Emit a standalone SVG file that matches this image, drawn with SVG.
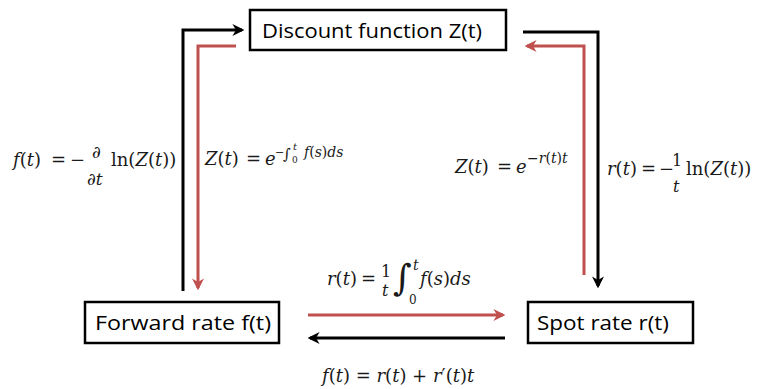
<svg xmlns="http://www.w3.org/2000/svg" width="764" height="389" viewBox="0 0 764 389">
<style>
.box{fill:#fff;stroke:#000;stroke-width:2.5}
.lbl{font-family:"Open Sans","Liberation Sans",Arial,sans-serif;font-size:20px;fill:#000}
.blk{fill:none;stroke:#000;stroke-width:3}
.red{fill:none;stroke:#c0504d;stroke-width:3}
.m{font-family:"DejaVu Serif","Liberation Serif",serif;fill:#1a1a1a}
.i{font-style:italic}
</style>
<defs>
<marker id="ab" viewBox="0 0 10 10" refX="8" refY="5" markerWidth="4" markerHeight="4" orient="auto" markerUnits="strokeWidth">
<path d="M0,0 L10,5 L0,10 L3,5 Z" fill="#000"/>
</marker>
<marker id="ar" viewBox="0 0 10 10" refX="8" refY="5" markerWidth="4" markerHeight="4" orient="auto" markerUnits="strokeWidth">
<path d="M0,0 L10,5 L0,10 L3,5 Z" fill="#c0504d"/>
</marker>
</defs>
<g id="connectors">
<polyline class="blk" points="183,291 183,30 242,30" marker-end="url(#ab)"/>
<polyline class="red" points="236,46 198,46 198,288" marker-end="url(#ar)"/>
<polyline class="blk" points="523,32 598,32 598,286" marker-end="url(#ab)"/>
<polyline class="red" points="584,275 584,46 527,46" marker-end="url(#ar)"/>
<line class="red" x1="308" y1="315" x2="503" y2="315" marker-end="url(#ar)"/>
<line class="blk" x1="505" y1="338" x2="310" y2="338" marker-end="url(#ab)"/>
</g>
<g id="discount">
<rect class="box" x="250" y="10" width="256" height="40"/>
<text class="lbl" x="262" y="38" textLength="220" lengthAdjust="spacingAndGlyphs">Discount function Z(t)</text>
</g>
<g id="forward">
<rect class="box" x="85" y="302" width="194" height="41"/>
<text class="lbl" x="95" y="330" textLength="176" lengthAdjust="spacingAndGlyphs">Forward rate f(t)</text>
</g>
<g id="spot">
<rect class="box" x="528" y="302" width="165" height="41"/>
<text class="lbl" x="537" y="330" textLength="132" lengthAdjust="spacingAndGlyphs">Spot rate r(t)</text>
</g>
<g id="labels" font-size="18">
<!-- f(t) = -d/dt ln(Z(t)) -->
<text class="m" x="13" y="166"><tspan class="i">f</tspan>(<tspan class="i">t</tspan>)</text>
<text class="m" x="51" y="166">=</text>
<text class="m" x="70" y="166">−</text>
<text class="m i" x="92" y="158" style="font-size:17px">∂</text>
<text class="m i" x="87" y="185" style="font-size:17px">∂t</text>
<text class="m" x="111" y="166">ln(<tspan class="i">Z</tspan>(<tspan class="i">t</tspan>))</text>

<!-- Z(t) = e^{-int f(s)ds} -->
<text class="m" x="205" y="165"><tspan class="i">Z</tspan>(<tspan class="i">t</tspan>)</text>
<text class="m" x="246" y="165">=</text>
<text class="m i" x="265" y="165">e</text>
<text class="m" x="275" y="156" style="font-size:11px">−</text>
<text class="m" x="283" y="159" style="font-size:15px">∫</text>
<text class="m i" x="293" y="150" style="font-size:10px">t</text>
<text class="m" x="292" y="163" style="font-size:9px">0</text>
<text class="m" x="304" y="157" style="font-size:14px"><tspan class="i">f</tspan>(<tspan class="i">s</tspan>)<tspan class="i">ds</tspan></text>

<!-- Z(t) = e^{-r(t)t} -->
<text class="m" x="455" y="173"><tspan class="i">Z</tspan>(<tspan class="i">t</tspan>)</text>
<text class="m" x="497" y="173">=</text>
<text class="m i" x="516" y="173">e</text>
<text class="m" x="527" y="163" style="font-size:14px">−<tspan class="i">r</tspan>(<tspan class="i">t</tspan>)<tspan class="i">t</tspan></text>

<!-- r(t) = -1/t ln(Z(t)) -->
<text class="m" x="607" y="175"><tspan class="i">r</tspan>(<tspan class="i">t</tspan>)</text>
<text class="m" x="641" y="175">=</text>
<text class="m" x="659" y="175">−</text>
<text class="m" x="672" y="166" style="font-size:16px">1</text>
<text class="m i" x="673" y="192" style="font-size:16px">t</text>
<text class="m" x="686" y="175">ln(<tspan class="i">Z</tspan>(<tspan class="i">t</tspan>))</text>

<!-- r(t) = 1/t int_0^t f(s)ds -->
<text class="m" x="327" y="285"><tspan class="i">r</tspan>(<tspan class="i">t</tspan>)</text>
<text class="m" x="361" y="285">=</text>
<text class="m" x="381" y="277" style="font-size:16px">1</text>
<text class="m i" x="382" y="296" style="font-size:16px">t</text>
<text class="m" x="393" y="290" style="font-size:36px">∫</text>
<text class="m i" x="413" y="270" style="font-size:14px">t</text>
<text class="m" x="409" y="304" style="font-size:12px">0</text>
<text class="m" x="420" y="285"><tspan class="i">f</tspan>(<tspan class="i">s</tspan>)<tspan class="i">ds</tspan></text>

<!-- f(t) = r(t) + r'(t)t -->
<text class="m" x="322" y="382"><tspan class="i">f</tspan>(<tspan class="i">t</tspan>) = <tspan class="i">r</tspan>(<tspan class="i">t</tspan>) + <tspan class="i">r</tspan>′(<tspan class="i">t</tspan>)<tspan class="i">t</tspan></text>
</g>
</svg>
